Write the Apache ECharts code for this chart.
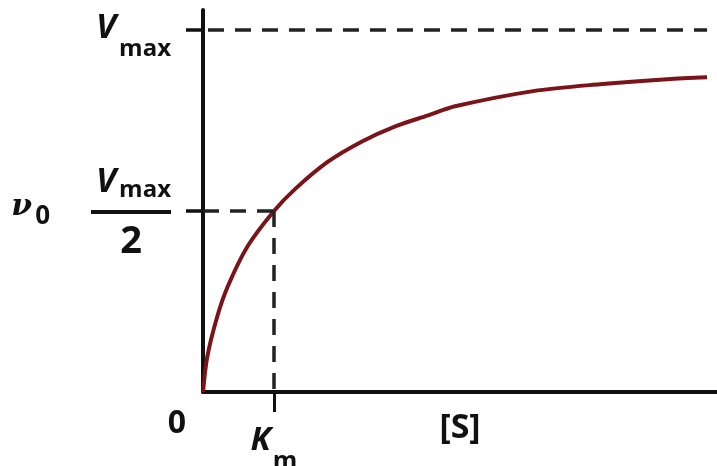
<!DOCTYPE html>
<html>
<head>
<meta charset="utf-8">
<title>Michaelis-Menten</title>
<script src="https://cdn.jsdelivr.net/npm/echarts@6/dist/echarts.min.js"></script>
<style>
  html, body { margin: 0; padding: 0; background: #fff; }
  #main { width: 717px; height: 466px; }
</style>
</head>
<body>
<div id="main"></div>
<script>
// substrate concentration [S] (in units of Km) and rate v0 (Vmax = 10)
const substrate = [0, 0.06, 0.2, 0.35, 0.63, 1.0, 1.3, 1.76, 2.24, 2.7, 3.17, 3.55, 4.65, 5.59, 6.54, 7.1];
const rate = [0, 0.97, 2.08, 2.92, 4.03, 5.0, 5.61, 6.36, 6.92, 7.33, 7.64, 7.89, 8.31, 8.5, 8.64, 8.69];

const vmax = 10;
const km = 1;
const yTicks = [vmax / 2, vmax];   // Vmax/2 and Vmax
const xTicks = [km];               // Km
const xLabels = [0, km];           // 0 and Km

// dashed guide lines
const vmaxLine = [[0.07, vmax], [7.1, vmax]];
const halfLine = [[0, vmax / 2], [km, vmax / 2]];
const kmLine = [[km, vmax / 2], [km, 0]];

const FONT = '"Open Sans", "DejaVu Sans", sans-serif';
const INK = '#111';

const chart = echarts.init(document.getElementById('main'), null, { renderer: 'canvas' });

// 曲线数据
const curve = substrate.map((s, i) => [s, rate[i]]);

// rich text: text centre = line top + padding top + fontSize / 2
const option = {
  animation: false,
  backgroundColor: '#fff',
  grid: { left: 203, right: 0, top: 10, bottom: 74, containLabel: false, outerBoundsMode: 'none' },
  xAxis: {
    type: 'value',
    min: 0,
    max: 7.24,
    splitLine: { show: false },
    axisLine: { show: true, lineStyle: { color: INK, width: 4 } },
    axisTick: { show: true, customValues: xTicks, length: 20, lineStyle: { color: INK, width: 3 } },
    axisLabel: {
      customValues: xLabels,
      margin: 14,
      formatter: v => (v === 0 ? '{zero|0}' : '{k|K}{m|m}'),
      rich: {
        zero: { fontFamily: FONT, fontWeight: 'bold', fontSize: 32, lineHeight: 36, color: INK,
                padding: [2, 52, 0, 0], verticalAlign: 'top' },
        k: { fontFamily: FONT, fontWeight: 'bold', fontStyle: 'italic', fontSize: 33, lineHeight: 36,
             color: INK, padding: [18, 0, 0, 0], verticalAlign: 'top' },
        m: { fontFamily: FONT, fontWeight: 'bold', fontSize: 25, lineHeight: 24, color: INK,
             padding: [43, 0, 0, 2], verticalAlign: 'top' }
      }
    },
    name: '[S]',
    nameLocation: 'middle',
    nameGap: 16,
    nameMoveOverlap: false,
    nameTextStyle: { fontFamily: FONT, fontWeight: 'bold', fontSize: 34, lineHeight: 40, color: INK }
  },
  yAxis: {
    type: 'value',
    min: 0,
    max: 10.55,
    splitLine: { show: false },
    axisLine: { show: true, lineStyle: { color: INK, width: 4 } },
    axisTick: { show: true, customValues: yTicks, length: 17, lineStyle: { color: INK, width: 3.5 } },
    axisLabel: {
      customValues: yTicks,
      margin: 32,
      formatter: v => (v === vmax ? '{v|V}{s|max}' : '{fv|V}{fs|max}\n{bar|}\n{two|2}'),
      rich: {
        v: { fontFamily: FONT, fontWeight: 'bold', fontStyle: 'italic', fontSize: 34, lineHeight: 40,
             color: INK, padding: [1, 3, 0, 0], verticalAlign: 'top' },
        s: { fontFamily: FONT, fontWeight: 'bold', fontSize: 24, lineHeight: 24, color: INK,
             padding: [27, 0, 0, 0], verticalAlign: 'top' },
        fv: { fontFamily: FONT, fontWeight: 'bold', fontStyle: 'italic', fontSize: 34, lineHeight: 46,
              color: INK, padding: [1, 3, 0, 0], verticalAlign: 'top' },
        fs: { fontFamily: FONT, fontWeight: 'bold', fontSize: 24, lineHeight: 24, color: INK,
              padding: [14, 0, 0, 0], verticalAlign: 'top' },
        bar: { width: 80, height: 4, lineHeight: 4, backgroundColor: INK },
        two: { fontFamily: FONT, fontWeight: 'bold', fontSize: 38, lineHeight: 44, color: INK,
               padding: [9, 0, 0, 0], align: 'center', verticalAlign: 'top' }
      }
    },
    name: '{nu|ν}{sub|0}',
    nameLocation: 'middle',
    nameRotate: 0,
    nameGap: 153,
    nameMoveOverlap: false,
    nameTextStyle: {
      rich: {
        nu: { fontFamily: '"DejaVu Serif", serif', fontWeight: 'bold', fontStyle: 'italic', fontSize: 30,
              lineHeight: 30, color: INK, padding: [6, 3, 0, 0], verticalAlign: 'top' },
        sub: { fontFamily: FONT, fontWeight: 'bold', fontSize: 26, lineHeight: 24, color: INK,
               padding: [18, 0, 0, 0], verticalAlign: 'top' }
      }
    }
  },
  series: [
    {
      type: 'line',
      data: curve,
      showSymbol: false,
      smooth: 0.3,
      lineStyle: { color: '#7a1418', width: 4 },
      z: 3,
      markLine: {
        silent: true,
        symbol: 'none',
        label: { show: false },
        lineStyle: { color: '#222', width: 3.5, type: [16, 11] },
        data: [vmaxLine, halfLine, kmLine].map(l => [{ coord: l[0] }, { coord: l[1] }])
      }
    }
  ]
};

chart.setOption(option);
</script>
</body>
</html>
